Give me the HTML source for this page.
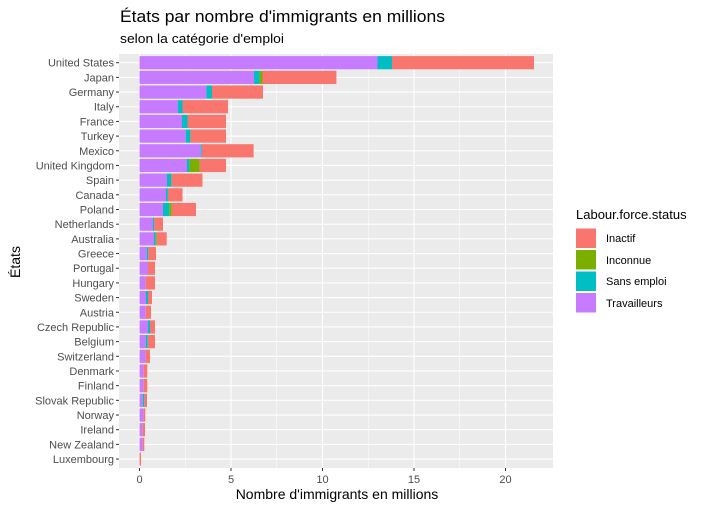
<!DOCTYPE html>
<html><head><meta charset="utf-8"><style>
html,body{margin:0;padding:0;background:#fff;}
svg{display:block;font-family:"Liberation Sans",sans-serif;}
</style></head><body>
<svg id="s" width="702" height="509" viewBox="0 0 702 509" xmlns="http://www.w3.org/2000/svg">
<rect x="0" y="0" width="702" height="509" fill="#fff"/>
<text x="120" y="22" font-size="17" fill="#000" textLength="325" lengthAdjust="spacingAndGlyphs">États par nombre d'immigrants en millions</text>
<text x="120" y="43" font-size="13" fill="#000" textLength="164" lengthAdjust="spacingAndGlyphs">selon la catégorie d'emploi</text>
<rect x="119" y="54" width="434" height="414" fill="#ebebeb"/>
<g id="grid"></g>
<g id="bars"></g>
<g id="labels" font-size="11" fill="#4d4d4d" text-anchor="end"></g>
<g font-size="11" fill="#4d4d4d" text-anchor="middle">
<text x="139.5" y="483">0</text><text x="231" y="483">5</text><text x="322.5" y="483">10</text><text x="414" y="483">15</text><text x="505.5" y="483">20</text>
</g>
<g stroke="#333" stroke-width="1">
<line x1="139.5" y1="468" x2="139.5" y2="471"/><line x1="231" y1="468" x2="231" y2="471"/><line x1="322.5" y1="468" x2="322.5" y2="471"/><line x1="414" y1="468" x2="414" y2="471"/><line x1="505.5" y1="468" x2="505.5" y2="471"/>
</g>
<text x="337" y="499" font-size="14" text-anchor="middle" fill="#000">Nombre d'immigrants en millions</text>
<text transform="translate(20,262) rotate(-90)" font-size="14" text-anchor="middle" fill="#000">États</text>
<text x="576" y="219" font-size="13" fill="#000">Labour.force.status</text>
<rect x="576" y="228.5" width="20" height="19.5" fill="#f8766d"/>
<rect x="576" y="250" width="20" height="19.5" fill="#7cae00"/>
<rect x="576" y="271.5" width="20" height="19.5" fill="#00bfc4"/>
<rect x="576" y="293" width="20" height="19.5" fill="#c77cff"/>
<g font-size="11" fill="#000">
<text x="606" y="242">Inactif</text>
<text x="606" y="264">Inconnue</text>
<text x="606" y="285">Sans emploi</text>
<text x="606" y="307">Travailleurs</text>
</g>
</svg>
<script>
var d=[
["United States",377.5,392,392,534],
["Japan",254,259.6,262.5,336.4],
["Germany",206.4,212,212,263],
["Italy",178,182.5,182.5,228],
["France",182,187.5,187.5,226],
["Turkey",185.7,190.4,190.4,226],
["Mexico",200.7,201.8,201.8,253.6],
["United Kingdom",187,189.6,199.6,226],
["Spain",167,171.4,171.4,202.5],
["Canada",166,167.9,167.9,182.5],
["Poland",163,169.3,171.8,196],
["Netherlands",153,154.3,154.3,163],
["Australia",154,155.7,156.7,166.7],
["Greece",146.7,148.3,148.3,156],
["Portugal",148,148,148,155],
["Hungary",145.7,145.7,145.7,155],
["Sweden",146,148,148,152],
["Austria",145.7,145.7,145.7,151],
["Czech Republic",148,150,150,155],
["Belgium",145.7,147.7,147.7,155],
["Switzerland",145.7,145.7,145.7,150],
["Denmark",143.7,143.7,143.7,147.3],
["Finland",143.7,143.7,143.7,147.3],
["Slovak Republic",142.7,144.3,144.3,147],
["Norway",143.7,143.7,143.7,145.3],
["Ireland",142.7,142.7,142.7,145],
["New Zealand",142.7,142.7,142.7,144.3],
["Luxembourg",139.5,139.5,139.5,141]];
var NS="http://www.w3.org/2000/svg";
function el(p,t,a){var e=document.createElementNS(NS,t);for(var k in a)e.setAttribute(k,a[k]);p.appendChild(e);return e;}
var g=document.getElementById("grid"),b=document.getElementById("bars"),L=document.getElementById("labels"),s=document.getElementById("s");
[185.25,276.75,368.25,459.75].forEach(function(x){el(g,"line",{x1:x,x2:x,y1:54,y2:468,stroke:"#fff","stroke-width":0.5});});
[139.5,231,322.5,414,505.5].forEach(function(x){el(g,"line",{x1:x,x2:x,y1:54,y2:468,stroke:"#fff","stroke-width":1.1});});
var sp=14.68,h=13.2;
d.forEach(function(r,i){
 var y=62.7+i*sp;
 el(g,"line",{x1:119,x2:553,y1:y,y2:y,stroke:"#fff","stroke-width":1.1});
 var t=el(L,"text",{x:114,y:y+4});t.textContent=r[0];
 el(s,"line",{x1:116,x2:119,y1:y,y2:y,stroke:"#333","stroke-width":1});
 var x0=139.5,c=["#c77cff","#00bfc4","#7cae00","#f8766d"];
 for(var j=0;j<4;j++){var x1=r[j+1];if(x1>x0){el(b,"rect",{x:x0,y:y-h/2,width:x1-x0,height:h,fill:c[j]});}x0=Math.max(x0,x1);}
});
</script>
</body></html>
